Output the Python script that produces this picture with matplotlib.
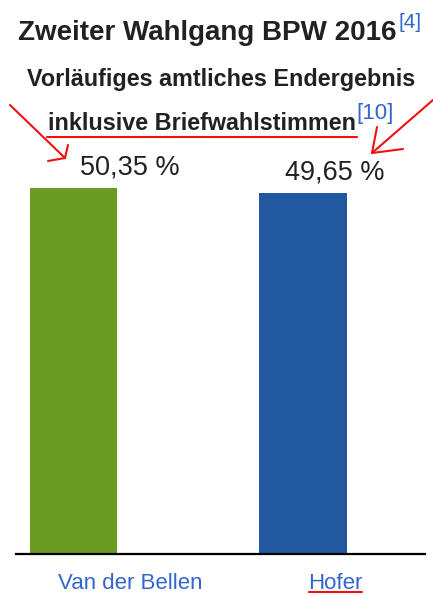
import matplotlib
matplotlib.use("Agg")
import matplotlib.pyplot as plt
from matplotlib.lines import Line2D

# ---- data ----
candidates = ["Van der Bellen", "Hofer"]
shares = [50.35, 49.65]
value_labels = ["50,35 %", "49,65 %"]
bar_colors = ["#6a9c24", "#2258a0"]
title = "Zweiter Wahlgang BPW 2016"
title_ref = "[4]"
subtitle1 = "Vorläufiges amtliches Endergebnis"
subtitle2 = "inklusive Briefwahlstimmen"
subtitle_ref = "[10]"

W, H = 433, 595
plt.rcParams["font.family"] = ["Liberation Sans", "DejaVu Sans"]
fig = plt.figure(figsize=(W / 100, H / 100), dpi=100)
fig.patch.set_facecolor("white")

def fx(x):
    return x / W

def fy(y):
    return 1 - y / H

TXT = "#202122"
LINK = "#3366cc"

# axes: baseline at y=554 px, top (max value) at y=188 px
ax = fig.add_axes([fx(16), fy(554), fx(425) - fx(16), (554 - 188) / H])
x = list(range(len(candidates)))
ax.bar(x, shares, width=0.38, color=bar_colors)
ax.set_ylim(0, max(shares))
ax.set_xlim(-0.2505, 1.5316)
for s in ["top", "left", "right"]:
    ax.spines[s].set_visible(False)
ax.spines["bottom"].set_color("black")
ax.spines["bottom"].set_linewidth(1.6)
ax.set_xticks([])
ax.set_yticks([])
ax.patch.set_alpha(0)

label_offsets = [0.246, 0.139]
for i, (v, lab, off) in enumerate(zip(shares, value_labels, label_offsets)):
    ax.annotate(lab, xy=(i + off, v), xytext=(0, 10), textcoords="offset points",
                ha="center", va="baseline", fontsize=19.5, color=TXT,
                annotation_clip=False)
for i, (name, off) in enumerate(zip(candidates, label_offsets)):
    ax.annotate(name, xy=(i + off, 0), xycoords=("data", "axes fraction"),
                xytext=(0, -25.2), textcoords="offset points",
                ha="center", va="baseline", fontsize=16, color=LINK,
                annotation_clip=False)

# titles
fig.text(fx(207.5), fy(40), title, ha="center", va="baseline",
         fontsize=20, fontweight="bold", color=TXT)
fig.text(fx(398), fy(28.5), title_ref, ha="left", va="baseline",
         fontsize=15, color=LINK)
fig.text(fx(221), fy(86), subtitle1, ha="center", va="baseline",
         fontsize=16.8, fontweight="bold", color=TXT)
fig.text(fx(201.5), fy(130), subtitle2, ha="center", va="baseline",
         fontsize=16.8, fontweight="bold", color=TXT)
fig.text(fx(356), fy(119), subtitle_ref, ha="left", va="baseline",
         fontsize=16, color=LINK)

# red hand-drawn annotations
red_strokes = [
    [(47, 137), (357, 137)],
    [(10, 105), (65, 158)],
    [(65, 158), (68, 145)],
    [(65, 158), (48, 161)],
    [(433, 100), (372, 153)],
    [(372, 153), (377, 127)],
    [(372, 153), (403, 149)],
    [(309, 592), (362, 592)],
]
for pts in red_strokes:
    xs = [fx(p[0]) for p in pts]
    ys = [fy(p[1]) for p in pts]
    fig.add_artist(Line2D(xs, ys, color="#f01010", lw=1.5,
                          transform=fig.transFigure, solid_capstyle="round"))

fig.savefig("out.png", dpi=100, facecolor="white")
